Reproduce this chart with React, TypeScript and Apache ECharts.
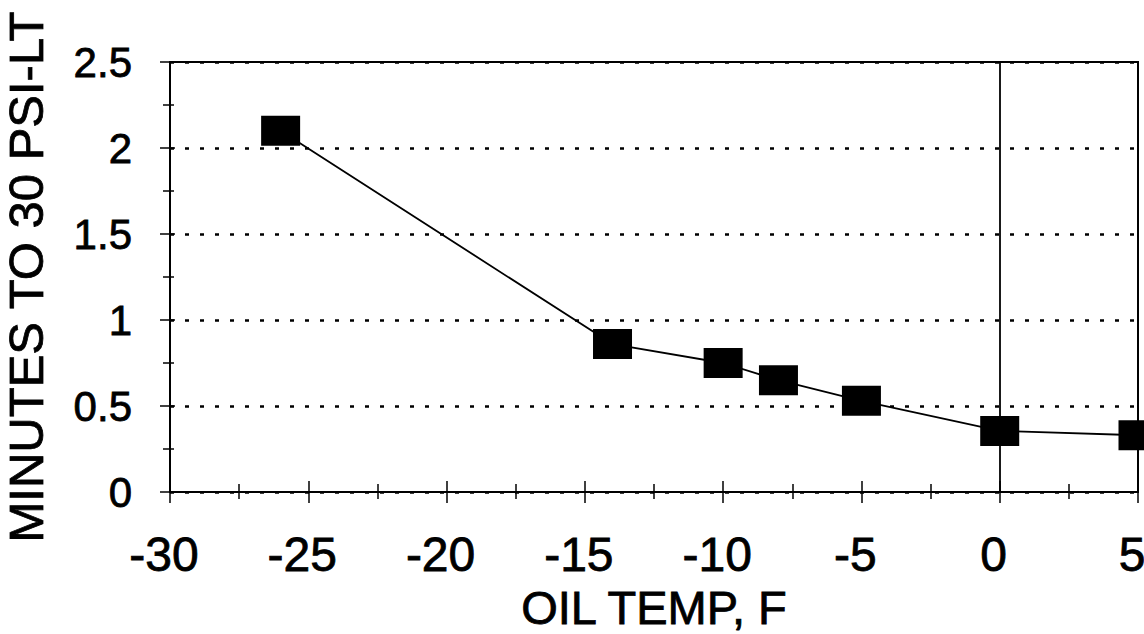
import React, { useEffect, useRef } from "react";
import * as echarts from "echarts";

// Oil temperature (F) vs minutes needed to reach 30 PSI
const oilTemp = [-26, -14, -10, -8, -5, 0, 5];
const minutesTo30 = [2.1, 0.86, 0.75, 0.65, 0.53, 0.355, 0.33];

const xTitle = "OIL TEMP, F";
const yTitle = "MINUTES TO 30 PSI-LT";

const FONT = "'Liberation Sans', Arial, Helvetica, sans-serif";
// slight outline so the type reads as heavy as a photocopied plot
const heavy = { textBorderColor: "#000", textBorderWidth: 0.8 };

export default function App() {
  const ref = useRef<HTMLDivElement>(null);

  useEffect(() => {
    if (!ref.current) return;
    const chart = echarts.init(ref.current, null, { renderer: "svg" });

    const grid = {
      left: 170,
      right: 6,
      top: 62,
      bottom: 142,
      containLabel: false,
      outerBoundsMode: "none",
      show: true,
      borderColor: "#000",
      borderWidth: 2,
    };

    const baseX = {
      type: "value",
      min: -30,
      max: 5,
      interval: 5,
      position: "bottom",
      axisLine: { show: true, onZero: false, lineStyle: { color: "#000", width: 2 } },
      splitLine: { show: false },
    };
    const baseY = {
      type: "value",
      min: 0,
      max: 2.5,
      interval: 0.5,
      position: "left",
      axisLine: { show: true, onZero: false, lineStyle: { color: "#000", width: 2 } },
    };

    chart.setOption({
      animation: false,
      backgroundColor: "#fff",
      grid,
      xAxis: [
        {
          ...baseX,
          name: xTitle,
          nameLocation: "middle",
          nameGap: 74,
          nameTextStyle: { fontFamily: FONT, fontSize: 47, lineHeight: 47, color: "#000", ...heavy },
          axisLabel: {
            fontFamily: FONT,
            fontSize: 48,
            color: "#000",
            margin: 38,
            padding: [0, 12, 0, 0],
            ...heavy,
          },
          axisTick: { show: true, inside: false, length: 11, lineStyle: { color: "#000", width: 1.5 } },
          minorTick: { show: true, splitNumber: 2, length: 7, lineStyle: { color: "#000", width: 1.5 } },
        },
        {
          ...baseX,
          axisLabel: { show: false },
          axisTick: { show: true, inside: true, length: 11, lineStyle: { color: "#000", width: 1.5 } },
          minorTick: { show: true, splitNumber: 2, length: 8, lineStyle: { color: "#000", width: 1.5 } },
        },
      ],
      yAxis: [
        {
          ...baseY,
          name: yTitle,
          nameLocation: "middle",
          nameGap: 120,
          nameTextStyle: { fontFamily: FONT, fontSize: 49, color: "#000", ...heavy },
          axisLabel: { fontFamily: FONT, fontSize: 42, color: "#000", margin: 38, ...heavy },
          axisTick: { show: true, inside: false, length: 10, lineStyle: { color: "#000", width: 1.5 } },
          minorTick: { show: true, splitNumber: 2, length: 7, lineStyle: { color: "#000", width: 1.5 } },
          splitLine: {
            show: true,
            lineStyle: { color: "#000", width: 2.5, type: [4, 11] },
          },
        },
        {
          ...baseY,
          axisLabel: { show: false },
          splitLine: { show: false },
          axisTick: { show: true, inside: true, length: 5, lineStyle: { color: "#000", width: 1.5 } },
          minorTick: { show: true, splitNumber: 2, length: 4, lineStyle: { color: "#000", width: 1.5 } },
        },
      ],
      series: [
        {
          type: "line",
          xAxisIndex: 0,
          yAxisIndex: 0,
          data: oilTemp.map((t, i) => [t, minutesTo30[i]]),
          symbol: "rect",
          symbolSize: [39, 30],
          itemStyle: { color: "#000" },
          lineStyle: { color: "#000", width: 1.8 },
          clip: false,
          z: 5,
          markLine: {
            silent: true,
            symbol: "none",
            label: { show: false },
            lineStyle: { color: "#000", width: 1.8, type: "solid" },
            data: [{ xAxis: 0 }],
          },
        },
      ],
    });

    return () => chart.dispose();
  }, []);

  return <div ref={ref} style={{ width: 1144, height: 634, position: "absolute", left: 0, top: 0 }} />;
}
